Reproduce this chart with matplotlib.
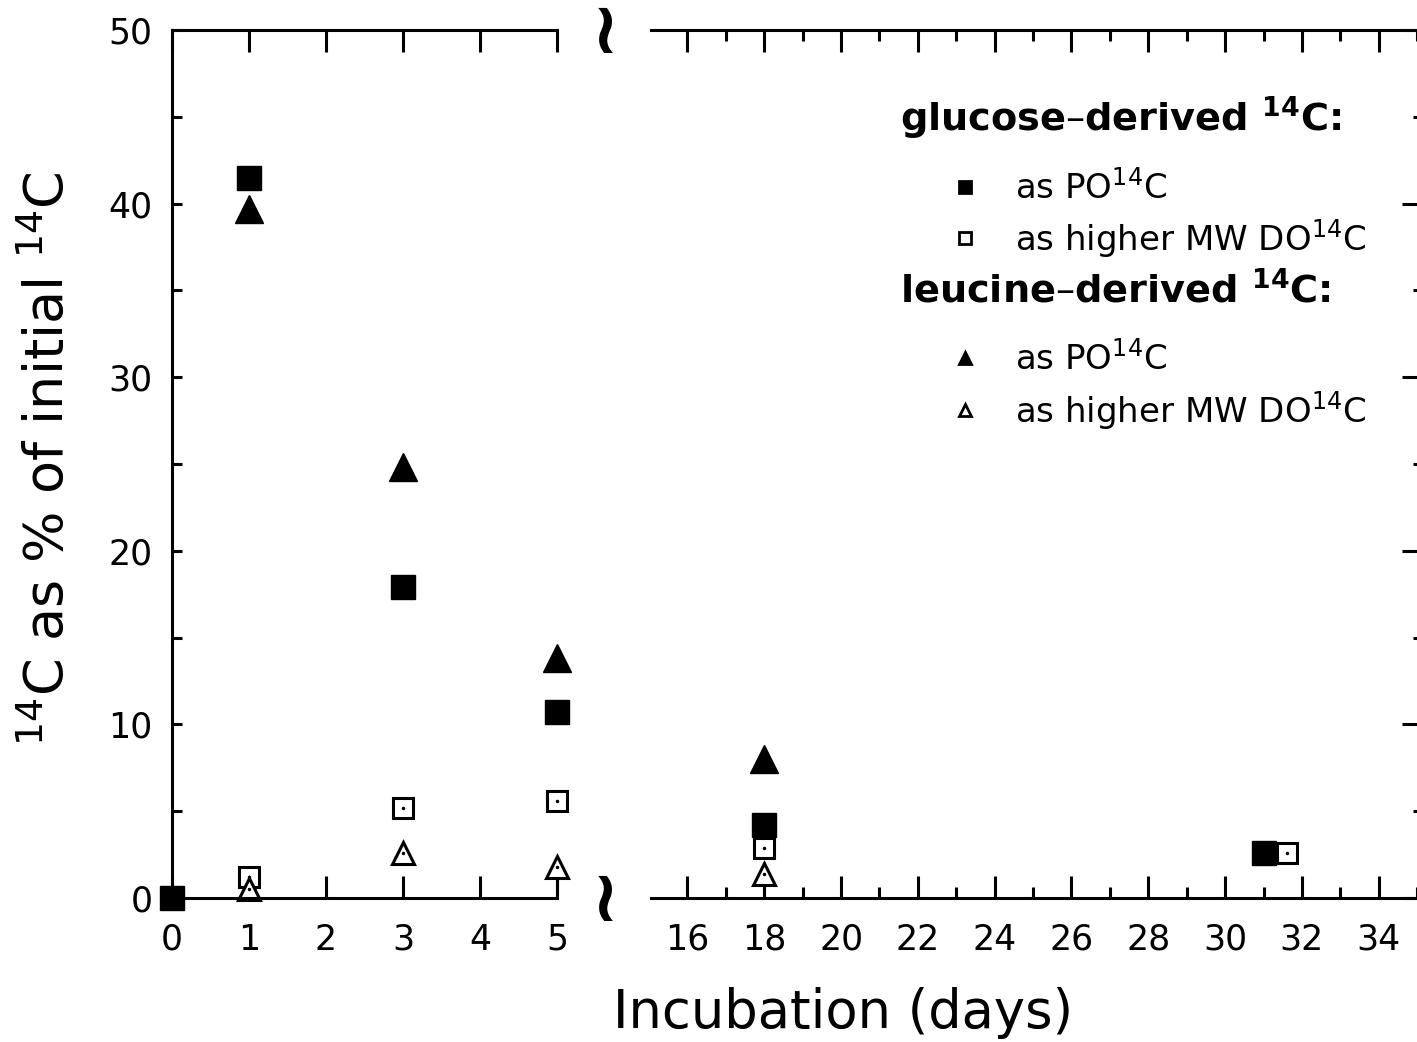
import matplotlib
matplotlib.use('Agg')
import matplotlib.pyplot as plt
from matplotlib.ticker import MultipleLocator, FixedLocator

plt.rcParams['font.family'] = 'DejaVu Sans'
plt.rcParams['mathtext.fontset'] = 'dejavusans'

# incubation days and 14C as % of initial 14C
glu_po_days = [0, 1, 3, 5, 18, 31]
glu_po = [0.0, 41.5, 17.9, 10.7, 4.2, 2.6]

glu_do_days = [1, 3, 5, 18, 31.6]
glu_do = [1.2, 5.2, 5.6, 2.9, 2.6]

leu_po_days = [1, 3, 5, 18]
leu_po = [39.7, 24.8, 13.8, 8.0]

leu_do_days = [1, 3, 5, 18]
leu_do = [0.5, 2.6, 1.8, 1.4]
leu_do_err_low = [0.5, 0.0, 1.8, 1.4]

left_ticks = [0, 1, 2, 3, 4, 5]
right_ticks = [16, 18, 20, 22, 24, 26, 28, 30, 32, 34]
y_ticks = [0, 10, 20, 30, 40, 50]

lw = 2.2
fig = plt.figure(figsize=(14.17, 10.42), dpi=100)
axL = fig.add_axes([0.1214, 0.1382, 0.2717, 0.833])
axR = fig.add_axes([0.4594, 0.1382, 0.5434, 0.833])


def pick(days, vals, lo, hi):
    pts = [(d, v) for d, v in zip(days, vals) if lo <= d <= hi]
    return [p[0] for p in pts], [p[1] for p in pts]


def draw_series(ax, lo, hi):
    d, v = pick(leu_do_days, leu_do, lo, hi)
    _, e = pick(leu_do_days, leu_do_err_low, lo, hi)
    if d:
        ax.errorbar(d, v, yerr=[e, [0] * len(e)], fmt='none', ecolor='black',
                    elinewidth=lw, capsize=0, clip_on=False)
    ax.plot(*pick(leu_po_days, leu_po, lo, hi), '^', color='black',
            markersize=20, clip_on=False)
    ax.plot(*pick(glu_po_days, glu_po, lo, hi), 's', color='black',
            markersize=17, clip_on=False)
    x, y = pick(glu_do_days, glu_do, lo, hi)
    ax.plot(x, y, 's', mfc='white', mec='black', mew=lw, markersize=15, clip_on=False)
    ax.plot(x, y, '.', color='black', markersize=3, clip_on=False)
    x, y = pick(leu_do_days, leu_do, lo, hi)
    ax.plot(x, y, '^', mfc='white', mec='black', mew=lw, markersize=16, clip_on=False)
    ax.plot(x, y, '.', color='black', markersize=3, clip_on=False)


draw_series(axL, 0, 5)
draw_series(axR, 15, 35)

for ax in (axL, axR):
    ax.set_ylim(0, 50)
    for s in ax.spines.values():
        s.set_linewidth(lw)

# left panel
axL.set_xlim(0, 5)
axL.spines['right'].set_visible(False)
axL.xaxis.set_major_locator(FixedLocator(left_ticks))
axL.yaxis.set_major_locator(FixedLocator(y_ticks))
axL.yaxis.set_minor_locator(MultipleLocator(5))
axL.tick_params(axis='x', which='major', direction='in', top=True, length=16,
                width=lw, labelsize=25, pad=18)
axL.tick_params(axis='y', which='both', direction='in', length=7, width=lw,
                labelsize=25, pad=14)

# right panel
axR.set_xlim(15.05, 35.1)
axR.spines['left'].set_visible(False)
axR.xaxis.set_major_locator(FixedLocator(right_ticks))
axR.xaxis.set_minor_locator(MultipleLocator(1))
axR.yaxis.set_major_locator(FixedLocator(y_ticks))
axR.yaxis.set_minor_locator(MultipleLocator(5))
axR.tick_params(axis='x', which='major', direction='in', top=True, length=16,
                width=lw, labelsize=25, pad=18)
axR.tick_params(axis='x', which='minor', direction='in', top=True, length=8, width=lw)
axR.tick_params(axis='y', which='major', direction='in', left=False, right=True,
                labelleft=False, length=14, width=lw)
axR.tick_params(axis='y', which='minor', direction='in', left=False, right=True,
                length=6, width=lw)

# axis break marks
for yb in (0.968, 0.135):
    fig.text(0.427, yb, '\u2240', fontsize=52, fontweight='bold',
             ha='center', va='center')

fig.text(0.595, 0.028, 'Incubation (days)', fontsize=38, ha='center', va='center')
fig.text(0.034, 0.56, r'$^{14}$C as % of initial $^{14}$C', fontsize=39,
         rotation=90, ha='center', va='center')

# legend drawn by hand
tr = axR.transAxes
axR.text(0.323, 0.899, r'glucose–derived $\mathbf{^{14}C}$:', transform=tr,
         fontsize=27.5, fontweight='bold', va='center')
axR.text(0.323, 0.700, r'leucine–derived $\mathbf{^{14}C}$:', transform=tr,
         fontsize=27.5, fontweight='bold', va='center')
rows = [(0.819, 's', 'black', r'as PO$^{14}$C'),
        (0.760, 's', 'white', r'as higher MW DO$^{14}$C'),
        (0.622, '^', 'black', r'as PO$^{14}$C'),
        (0.562, '^', 'white', r'as higher MW DO$^{14}$C')]
for yr, mk, fc, label in rows:
    axR.plot([0.408], [yr], mk, mfc=fc, mec='black', mew=2, markersize=9,
             transform=tr, clip_on=False)
    axR.text(0.4727, yr, label, transform=tr, fontsize=24.5, va='center')

fig.savefig('out.png', dpi=100)
